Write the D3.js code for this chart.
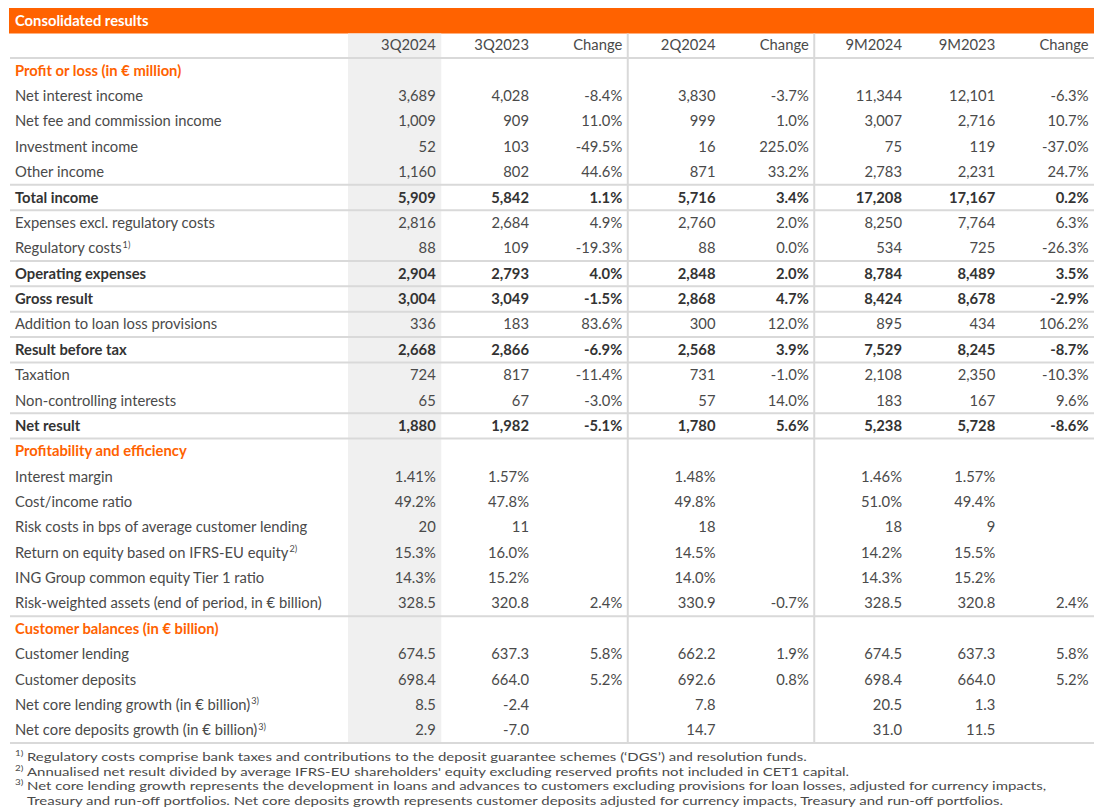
<!DOCTYPE html>
<html>
<head>
<meta charset="utf-8">
<script src="https://cdn.jsdelivr.net/npm/d3@7"></script>
<style>
  html, body { margin: 0; padding: 0; background: #fff; }
  svg { display: block; }
</style>
</head>
<body>
<div id="chart"></div>
<script>
// ---------------- DATA ----------------
const title = "Consolidated results";
const columnLabels = ["3Q2024", "3Q2023", "Change", "2Q2024", "Change", "9M2024", "9M2023", "Change"];

const rowLabels = [
  "Profit or loss (in € million)",
  "Net interest income",
  "Net fee and commission income",
  "Investment income",
  "Other income",
  "Total income",
  "Expenses excl. regulatory costs",
  "Regulatory costs",
  "Operating expenses",
  "Gross result",
  "Addition to loan loss provisions",
  "Result before tax",
  "Taxation",
  "Non-controlling interests",
  "Net result",
  "Profitability and efficiency",
  "Interest margin",
  "Cost/income ratio",
  "Risk costs in bps of average customer lending",
  "Return on equity based on IFRS-EU equity",
  "ING Group common equity Tier 1 ratio",
  "Risk-weighted assets (end of period, in € billion)",
  "Customer balances (in € billion)",
  "Customer lending",
  "Customer deposits",
  "Net core lending growth (in € billion)",
  "Net core deposits growth (in € billion)"
];
const footnoteMarks = ["", "", "", "", "", "", "", "1)", "", "", "", "", "", "", "", "", "", "", "", "2)", "", "", "", "", "", "3)", "3)"];
const sectionRows = ["Profit or loss (in € million)", "Profitability and efficiency", "Customer balances (in € billion)"];
const boldRows = ["Total income", "Operating expenses", "Gross result", "Result before tax", "Net result"];

const q3_2024 = ["", "3,689", "1,009", "52", "1,160", "5,909", "2,816", "88", "2,904", "3,004", "336", "2,668", "724", "65", "1,880", "", "1.41%", "49.2%", "20", "15.3%", "14.3%", "328.5", "", "674.5", "698.4", "8.5", "2.9"];
const q3_2023 = ["", "4,028", "909", "103", "802", "5,842", "2,684", "109", "2,793", "3,049", "183", "2,866", "817", "67", "1,982", "", "1.57%", "47.8%", "11", "16.0%", "15.2%", "320.8", "", "637.3", "664.0", "-2.4", "-7.0"];
const changeYoY = ["", "-8.4%", "11.0%", "-49.5%", "44.6%", "1.1%", "4.9%", "-19.3%", "4.0%", "-1.5%", "83.6%", "-6.9%", "-11.4%", "-3.0%", "-5.1%", "", "", "", "", "", "", "2.4%", "", "5.8%", "5.2%", "", ""];
const q2_2024 = ["", "3,830", "999", "16", "871", "5,716", "2,760", "88", "2,848", "2,868", "300", "2,568", "731", "57", "1,780", "", "1.48%", "49.8%", "18", "14.5%", "14.0%", "330.9", "", "662.2", "692.6", "7.8", "14.7"];
const changeQoQ = ["", "-3.7%", "1.0%", "225.0%", "33.2%", "3.4%", "2.0%", "0.0%", "2.0%", "4.7%", "12.0%", "3.9%", "-1.0%", "14.0%", "5.6%", "", "", "", "", "", "", "-0.7%", "", "1.9%", "0.8%", "", ""];
const m9_2024 = ["", "11,344", "3,007", "75", "2,783", "17,208", "8,250", "534", "8,784", "8,424", "895", "7,529", "2,108", "183", "5,238", "", "1.46%", "51.0%", "18", "14.2%", "14.3%", "328.5", "", "674.5", "698.4", "20.5", "31.0"];
const m9_2023 = ["", "12,101", "2,716", "119", "2,231", "17,167", "7,764", "725", "8,489", "8,678", "434", "8,245", "2,350", "167", "5,728", "", "1.57%", "49.4%", "9", "15.5%", "15.2%", "320.8", "", "637.3", "664.0", "1.3", "11.5"];
const changeYtd = ["", "-6.3%", "10.7%", "-37.0%", "24.7%", "0.2%", "6.3%", "-26.3%", "3.5%", "-2.9%", "106.2%", "-8.7%", "-10.3%", "9.6%", "-8.6%", "", "", "", "", "", "", "2.4%", "", "5.8%", "5.2%", "", ""];

// rows above which a separator rule is drawn
const rulesAbove = ["Profit or loss (in € million)", "Total income", "Expenses excl. regulatory costs", "Operating expenses", "Gross result",
  "Addition to loan loss provisions", "Result before tax", "Taxation", "Net result", "Profitability and efficiency", "Customer balances (in € billion)"];

const footnotes = [
  { mark: "1)", lines: ["Regulatory costs comprise bank taxes and contributions to the deposit guarantee schemes (‘DGS’) and resolution funds."] },
  { mark: "2)", lines: ["Annualised net result divided by average IFRS-EU shareholders' equity excluding reserved profits not included in CET1 capital."] },
  { mark: "3)", lines: ["Net core lending growth represents the development in loans and advances to customers excluding provisions for loan losses, adjusted for currency impacts,",
                        "Treasury and run-off portfolios. Net core deposits growth represents customer deposits adjusted for currency impacts, Treasury and run-off portfolios."] }
];

const columnsData = [q3_2024, q3_2023, changeYoY, q2_2024, changeQoQ, m9_2024, m9_2023, changeYtd];

// ---------------- LAYOUT ----------------
const W = 1099, H = 807;
const FONT = "Lato, 'Open Sans', sans-serif";
const ORANGE = "#FF6200";
const TEXT = "#4a4a4a";
const BOLD = "#333333";
const RULE = "#d9d9d9";

const svg = d3.select("#chart").append("svg").attr("width", W).attr("height", H)
  .style("font-family", FONT);

// font fit: measure a reference label
const probe = svg.append("text").attr("font-size", 14).text("Risk-weighted assets (end of period, in € billion)");
const pw = probe.node().getComputedTextLength();
probe.remove();
const FS = 14 * 307 / pw;
// footnotes: fixed 12px glyphs, stretched horizontally to the reference width
const FFS = 12;
const probe2 = svg.append("text").attr("font-size", FFS).text(footnotes[0].lines[0]);
const pw2 = probe2.node().getComputedTextLength();
probe2.remove();
const FK = 781 / pw2;

const tableLeft = 9, tableRight = 1094;
const y = d3.scaleBand().domain(d3.range(rowLabels.length)).range([58, 743]);
const x = d3.scaleBand().domain(d3.range(columnLabels.length)).range([348, 1094]);

// header bar
svg.append("rect").attr("x", tableLeft).attr("y", 8).attr("width", tableRight - tableLeft).attr("height", 25.5).attr("fill", ORANGE);
svg.append("text").attr("x", 15).attr("y", 26).attr("fill", "#fff").attr("font-weight", 700)
  .attr("font-size", FS).text(title);

// shaded current-quarter column
svg.append("rect").attr("x", x(0)).attr("y", 33.5).attr("width", x.bandwidth()).attr("height", 743 - 33.5).attr("fill", "#f0f0f0");

// horizontal rules
const ruleYs = rulesAbove.map(l => y(rowLabels.indexOf(l))).concat([743]);
svg.append("g").selectAll("line").data(ruleYs).join("line")
  .attr("x1", tableLeft + 1).attr("x2", tableRight).attr("y1", d => d).attr("y2", d => d)
  .attr("stroke", RULE).attr("stroke-width", 2);

// vertical rules after the first two "Change" columns
const vIdx = [2, 4];
svg.append("g").selectAll("line").data(vIdx).join("line")
  .attr("x1", i => x(i) + x.bandwidth()).attr("x2", i => x(i) + x.bandwidth())
  .attr("y1", 33.5).attr("y2", 744)
  .attr("stroke", RULE).attr("stroke-width", 2);

// column headers
svg.append("g").selectAll("text").data(columnLabels).join("text")
  .attr("x", (d, i) => x(i) + x.bandwidth() - 5.5)
  .attr("y", 50).attr("text-anchor", "end").attr("font-size", FS).attr("fill", TEXT)
  .text(d => d);

// row labels
const rowG = svg.append("g").selectAll("g").data(rowLabels).join("g")
  .attr("transform", (d, i) => `translate(0,${y(i) + y.bandwidth() / 2 + 5})`);

rowG.append("text")
  .attr("x", 15).attr("font-size", FS)
  .attr("font-weight", d => (sectionRows.includes(d) || boldRows.includes(d)) ? 700 : 400)
  .attr("fill", d => sectionRows.includes(d) ? ORANGE : (boldRows.includes(d) ? BOLD : TEXT))
  .each(function (d, i) {
    const t = d3.select(this);
    t.append("tspan").text(d);
    if (footnoteMarks[i]) {
      t.append("tspan").attr("font-size", FS * 0.62).attr("dy", -5.5).attr("dx", 1).text(footnoteMarks[i]);
    }
  });

// values
columnsData.forEach((col, ci) => {
  svg.append("g").selectAll("text").data(col).join("text")
    .attr("x", x(ci) + x.bandwidth() - 5.5)
    .attr("y", (d, i) => y(i) + y.bandwidth() / 2 + 5)
    .attr("text-anchor", "end").attr("font-size", FS)
    .attr("font-weight", (d, i) => boldRows.includes(rowLabels[i]) ? 700 : 400)
    .attr("fill", (d, i) => boldRows.includes(rowLabels[i]) ? BOLD : TEXT)
    .text(d => d);
});

// footnotes
let fy = 761;
const fg = svg.append("g").attr("font-size", FFS).attr("fill", TEXT)
  .attr("transform", `scale(${FK},1)`);
footnotes.forEach(f => {
  fg.append("text").attr("x", 15 / FK).attr("y", fy - 5).attr("font-size", FFS * 0.66).text(f.mark);
  f.lines.forEach(line => {
    fg.append("text").attr("x", 27 / FK).attr("y", fy).text(line);
    fy += 14.6;
  });
});
</script>
</body>
</html>
